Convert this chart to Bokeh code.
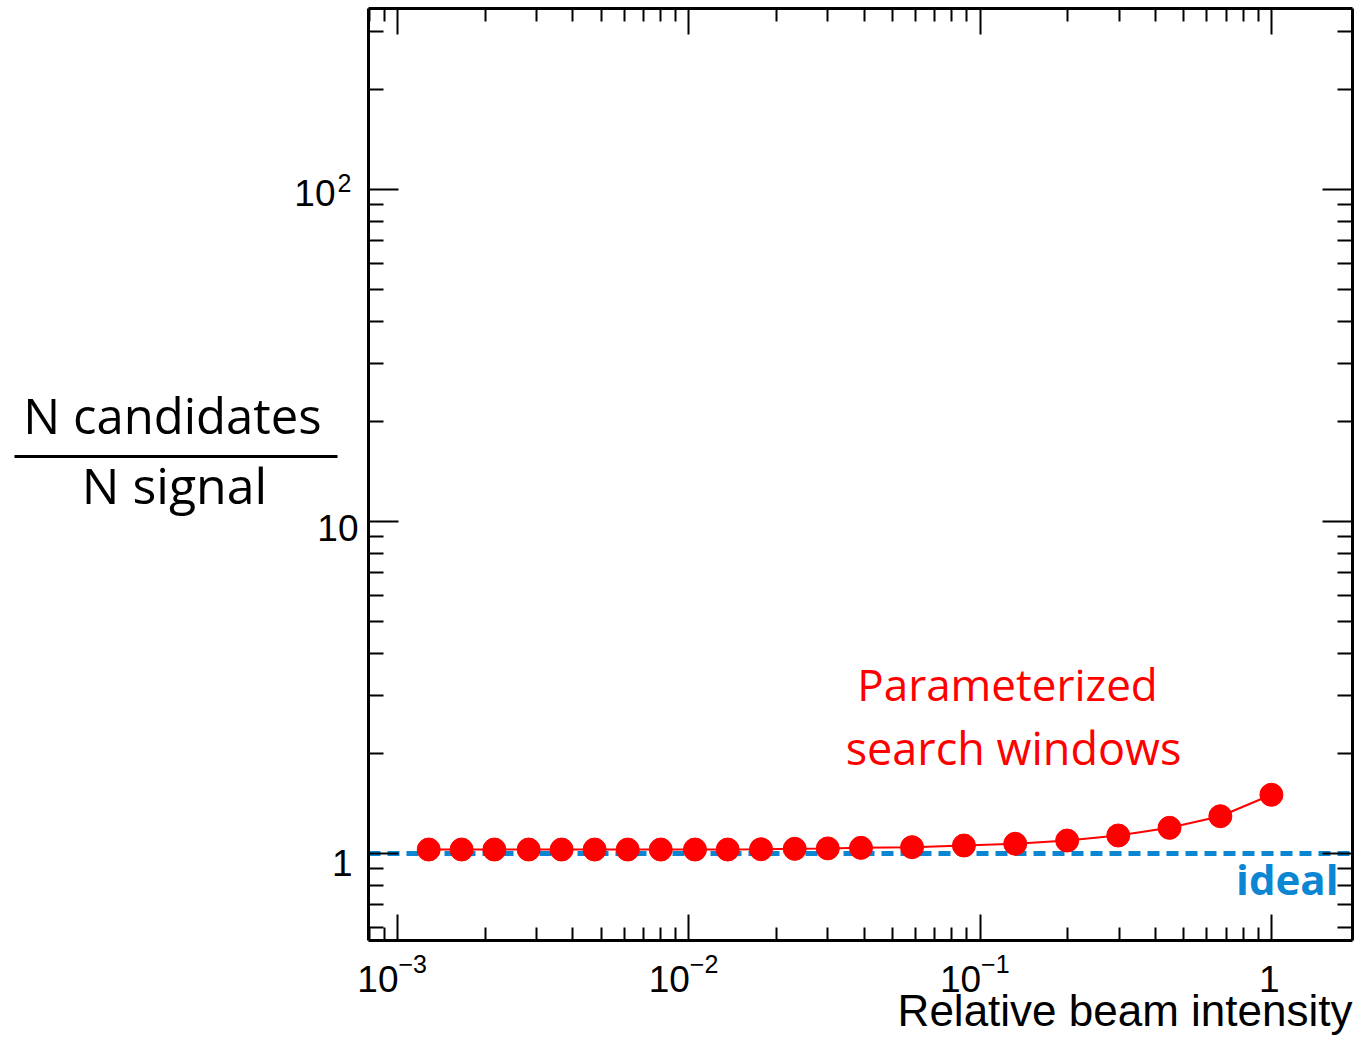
import math
from bokeh.plotting import figure
from bokeh.models import Range1d, LogAxis, FixedTicker, Label
from bokeh.embed import file_html
from bokeh.resources import INLINE

# ---- data ----
intensity = [0.00128, 0.00166, 0.00215, 0.00282, 0.00366, 0.00475, 0.00617, 0.00801,
             0.0105, 0.0136, 0.0177, 0.0231, 0.0300, 0.0390, 0.0584, 0.088, 0.132,
             0.199, 0.298, 0.447, 0.668, 1.0]
ratio = [1.028, 1.028, 1.028, 1.028, 1.028, 1.028, 1.028, 1.028, 1.028, 1.028,
         1.030, 1.033, 1.036, 1.040, 1.045, 1.057, 1.070, 1.094, 1.133, 1.195,
         1.295, 1.503]
ideal_value = 1.0
x_major = [0.001, 0.01, 0.1, 1.0]
x_major_labels = [("10", "\u22123"), ("10", "\u22122"), ("10", "\u22121"), ("1", "")]
y_major = [1.0, 10.0, 100.0]
y_major_labels = [("1", ""), ("10", ""), ("10", "2")]

# ---- geometry (canvas pixels) ----
W, H = 1354, 1037
X0_PX, X_DEC = 397.0, 291.3      # pixel of 10^-3, pixels per decade
Y0_PX, Y_DEC = 853.0, 332.0      # pixel of 1, pixels per decade

def xpx(px):
    return 10 ** (-3 + (px - X0_PX) / X_DEC)

def ypx(py):
    return 10 ** ((Y0_PX - py) / Y_DEC)

# plot box limits (axis ranges of the chart)
bx_lo, bx_hi = xpx(368), xpx(1352)
by_lo, by_hi = ypx(940), ypx(8)

p = figure(width=W, height=H, x_axis_type="log", y_axis_type="log",
           x_range=Range1d(xpx(0), xpx(W)), y_range=Range1d(ypx(H), ypx(0)),
           output_backend="svg", toolbar_location=None, tools="",
           min_border=0, x_axis_location=None, y_axis_location=None)
p.grid.visible = False
p.outline_line_color = None
p.background_fill_color = "white"
p.border_fill_color = "white"

x_minor = [m * 10 ** e for e in range(-4, 1) for m in range(2, 10)]
x_minor = [v for v in x_minor if bx_lo <= v <= bx_hi]
y_minor = [m * 10 ** e for e in range(-1, 3) for m in range(2, 10)]
y_minor = [v for v in y_minor if by_lo <= v <= by_hi]

def make_axis(ticks, minor, major_len, minor_len, loc, bounds):
    ax = LogAxis(ticker=FixedTicker(ticks=ticks, minor_ticks=minor),
                 fixed_location=loc, bounds=bounds)
    ax.major_tick_in = major_len
    ax.major_tick_out = 0
    ax.minor_tick_in = minor_len
    ax.minor_tick_out = 0
    ax.axis_line_width = 3
    ax.major_tick_line_width = 2
    ax.minor_tick_line_width = 2
    ax.axis_line_color = "black"
    ax.major_tick_line_color = "black"
    ax.minor_tick_line_color = "black"
    ax.major_label_text_font_size = "0px"
    ax.major_label_standoff = 0
    ax.major_label_text_color = None
    return ax

p.add_layout(make_axis(x_major, x_minor, 26, 13, by_lo, (bx_lo, bx_hi)), "below")
p.add_layout(make_axis(x_major, x_minor, 26, 13, by_hi, (bx_lo, bx_hi)), "above")
p.add_layout(make_axis(y_major, y_minor, 30, 15, bx_lo, (by_lo, by_hi)), "left")
p.add_layout(make_axis(y_major, y_minor, 30, 15, bx_hi, (by_lo, by_hi)), "right")

# ideal line
p.segment(x0=[bx_lo], x1=[bx_hi], y0=[ideal_value], y1=[ideal_value],
          line_color="#0a86d2", line_width=5, line_dash="12 7")

p.line(intensity, ratio, line_color="red", line_width=2)
p.scatter(intensity, ratio, size=23, fill_color="red", line_color="red")

TF = "Liberation Sans"
BLK = "black"
# x tick labels
for t, (base, sup) in zip(x_major, x_major_labels):
    if sup:
        p.add_layout(Label(x=t, y=by_lo, text=base, text_align="right", text_baseline="alphabetic",
                           y_offset=-38, x_offset=1, text_font=TF, text_font_size="37px",
                           text_color=BLK))
        p.add_layout(Label(x=t, y=by_lo, text=sup, text_align="left", text_baseline="alphabetic",
                           y_offset=-23, x_offset=1, text_font=TF, text_font_size="25px",
                           text_color=BLK))
    else:
        p.add_layout(Label(x=t, y=by_lo, text=base, text_align="center", text_baseline="alphabetic",
                           y_offset=-38, x_offset=-2, text_font=TF, text_font_size="37px",
                           text_color=BLK))

# y tick labels
y_lab_pos = {1.0: (-16, -9), 10.0: (-10, -6), 100.0: (-33, -3)}
for t, (base, sup) in zip(y_major, y_major_labels):
    xo, yo = y_lab_pos[t]
    p.add_layout(Label(x=bx_lo, y=t, text=base, text_align="right", text_baseline="alphabetic",
                       x_offset=xo, y_offset=yo, text_font=TF, text_font_size="37px",
                       text_color=BLK))
    if sup:
        p.add_layout(Label(x=bx_lo, y=t, text=sup, text_align="left", text_baseline="alphabetic",
                           x_offset=xo + 2, y_offset=7, text_font=TF, text_font_size="25px",
                           text_color=BLK))

# axis titles
p.add_layout(Label(x=bx_hi, y=by_lo, text="Relative beam intensity", text_align="right",
                   text_baseline="alphabetic", y_offset=-70, x_offset=0, text_font=TF,
                   text_font_size="44px", text_color=BLK))

OS = "Open Sans"
p.add_layout(Label(x=xpx(172), y=ypx(433 - 19), text="N candidates", text_align="center",
                   text_baseline="alphabetic", text_font=OS, text_font_size="49px",
                   text_color=BLK))
p.add_layout(Label(x=xpx(174), y=ypx(503 - 19), text="N signal", text_align="center",
                   text_baseline="alphabetic", text_font=OS, text_font_size="50px",
                   text_color=BLK))
p.segment(x0=[xpx(14)], x1=[xpx(337)], y0=[ypx(456)], y1=[ypx(456)],
          line_width=3, line_color="black")

# annotations
p.add_layout(Label(x=xpx(1007), y=ypx(700 - 17), text="Parameterized", text_align="center",
                   text_baseline="alphabetic", text_font=OS, text_font_size="44px",
                   text_color="red"))
p.add_layout(Label(x=xpx(1013), y=ypx(764 - 17), text="search windows", text_align="center",
                   text_baseline="alphabetic", text_font=OS, text_font_size="45px",
                   text_color="red"))
p.add_layout(Label(x=xpx(1338), y=ypx(896 - 18), text="ideal", text_align="right",
                   text_baseline="alphabetic", text_font=OS, text_font_size="42px",
                   text_font_style="bold", text_color="#0a86d2"))

open("out.html", "w").write(file_html(p, INLINE))
